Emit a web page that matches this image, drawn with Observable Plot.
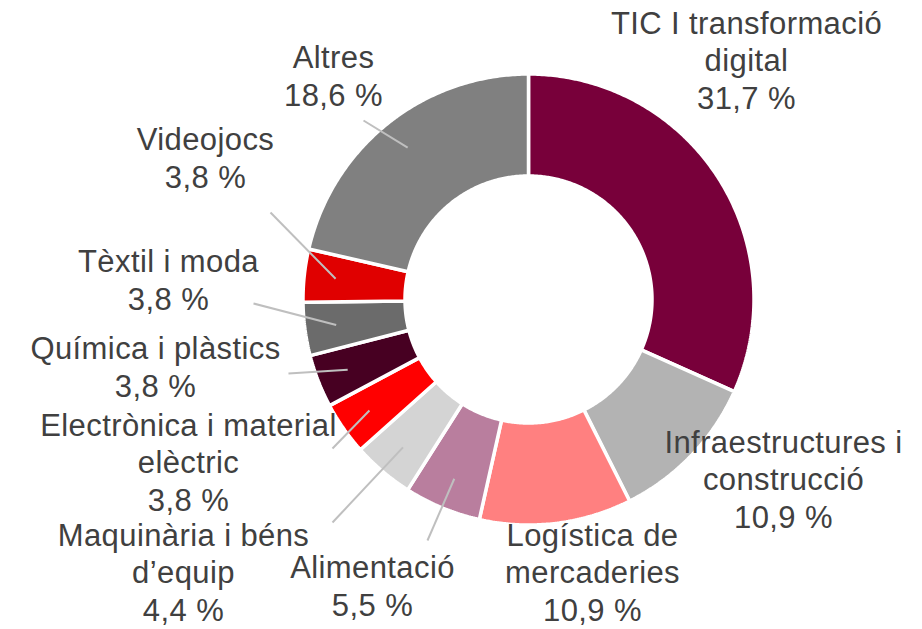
<!DOCTYPE html>
<html><head><meta charset="utf-8">
<script src="https://cdn.jsdelivr.net/npm/d3@7"></script>
<script src="https://cdn.jsdelivr.net/npm/@observablehq/plot@0.6"></script>
<style>body{margin:0;background:#fff}</style>
</head><body><div id="chart"></div>
<script>
// ---- data ----
const sectors = ["TIC I transformació digital", "Infraestructures i construcció", "Logística de mercaderies", "Alimentació", "Maquinària i béns d’equip", "Electrònica i material elèctric", "Química i plàstics", "Tèxtil i moda", "Videojocs", "Altres"];
const sectorLines = ["TIC I transformació\ndigital", "Infraestructures i\nconstrucció", "Logística de\nmercaderies", "Alimentació", "Maquinària i béns\nd’equip", "Electrònica i material\nelèctric", "Química i plàstics", "Tèxtil i moda", "Videojocs", "Altres"];
// drawn share of each slice (Altres slice fills the remainder of the ring)
const shares = [31.7, 10.9, 10.9, 5.5, 4.4, 3.8, 3.8, 3.8, 3.8, 21.4];
const shareLabels = ["31,7 %", "10,9 %", "10,9 %", "5,5 %", "4,4 %", "3,8 %", "3,8 %", "3,8 %", "3,8 %", "18,6 %"];
const colors = ["#78003a", "#b3b3b3", "#ff8080", "#b97e9e", "#d4d4d4", "#ff0000", "#470022", "#6b6b6b", "#e00000", "#808080"];

// ---- layout ----
const W = 922, H = 629, CX = 528, CY = 299, R_OUT = 225.5, R_IN = 123.5, R_LEAD = 194;
const labelPos = [[746,108],[783,527],[592,620],[372,615],[183,620],[188,510],[155,396],[168,309],[205,187],[333,105]];
const leaderStart = [null,null,null,[427,540],[332,522],[332,448],[288,373],[253,303],[270,212],[363,120]];

const total = d3.sum(shares);
let acc = 0;
const slices = sectors.map((s, i) => {
  const a0 = acc / total * 2 * Math.PI; acc += shares[i];
  const a1 = acc / total * 2 * Math.PI;
  return {s, i, a0, a1, color: colors[i]};
});
const pt = (r, a) => [CX + r * Math.sin(a), CY - r * Math.cos(a)];
const poly = [];
for (const sl of slices) {
  const n = Math.max(8, Math.ceil((sl.a1 - sl.a0) / 0.01));
  const pts = [];
  for (let k = 0; k <= n; k++) pts.push(pt(R_OUT, sl.a0 + (sl.a1 - sl.a0) * k / n));
  for (let k = n; k >= 0; k--) pts.push(pt(R_IN, sl.a0 + (sl.a1 - sl.a0) * k / n));
  pts.push(pts[0]);
  pts.forEach(([x, y]) => poly.push({x, y, name: sl.s, color: sl.color}));
}
const leaders = slices.filter(sl => leaderStart[sl.i]).map(sl => {
  const [x2, y2] = pt(R_LEAD, (sl.a0 + sl.a1) / 2);
  const [x1, y1] = leaderStart[sl.i];
  return {x1, y1, x2, y2};
});
const labels = sectors.map((s, i) => ({x: labelPos[i][0], y: labelPos[i][1], text: sectorLines[i] + "\n" + shareLabels[i]}));

const chart = Plot.plot({
  width: W, height: H, margin: 0,
  x: {domain: [0, W], range: [0, W], axis: null},
  y: {domain: [0, H], range: [0, H], axis: null},
  style: {fontFamily: "'Liberation Sans', Arial, Helvetica, sans-serif", background: "#fff", letterSpacing: "0.4px"},
  marks: [
    Plot.line(poly, {x: "x", y: "y", z: "name", fill: "color", stroke: "white", strokeWidth: 3.5, strokeLinejoin: "miter"}),
    Plot.link(leaders, {x1: "x1", y1: "y1", x2: "x2", y2: "y2", stroke: "#bfbfbf", strokeWidth: 2}),
    Plot.text(labels, {x: "x", y: "y", text: "text", fontSize: 31, lineHeight: 1.2, lineAnchor: "bottom", textAnchor: "middle", fill: "#404040"})
  ]
});
document.getElementById("chart").append(chart);
</script>
</body></html>
